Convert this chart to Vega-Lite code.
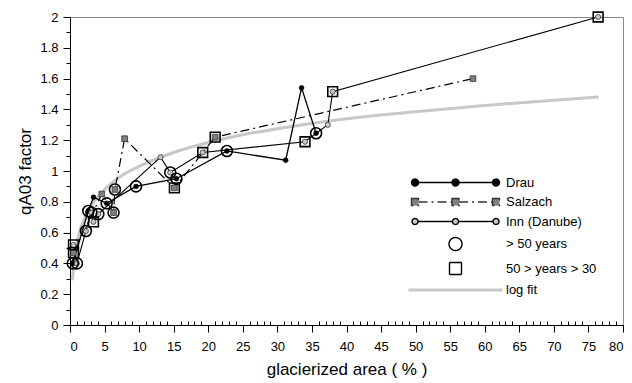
{
  "$schema": "https://vega.github.io/schema/vega-lite/v6.json",
  "width": 553,
  "height": 308,
  "autosize": "none",
  "padding": {"left": 70, "top": 17, "right": 9, "bottom": 58},
  "background": "white",
  "config": {
    "font": "Liberation Sans",
    "view": {"stroke": "#888888", "strokeWidth": 1},
    "axis": {"grid": false, "domainColor": "black", "tickColor": "black", "labelColor": "black", "titleColor": "black", "labelFont": "Liberation Sans", "titleFont": "Liberation Sans", "titleFontWeight": "normal", "labelFontSize": 13, "titleFontSize": 17}
  },
  "datasets": {
    "pts": [
      {"river": "Drau", "area": 0.4, "q": 0.40, "age": "> 50 years"},
      {"river": "Drau", "area": 2.65, "q": 0.74, "age": "> 50 years"},
      {"river": "Drau", "area": 3.4, "q": 0.83, "age": null},
      {"river": "Drau", "area": 5.3, "q": 0.79, "age": "> 50 years"},
      {"river": "Drau", "area": 9.55, "q": 0.90, "age": "> 50 years"},
      {"river": "Drau", "area": 15.4, "q": 0.95, "age": "> 50 years"},
      {"river": "Drau", "area": 22.7, "q": 1.13, "age": "> 50 years"},
      {"river": "Drau", "area": 31.2, "q": 1.07, "age": null},
      {"river": "Drau", "area": 33.5, "q": 1.54, "age": null},
      {"river": "Drau", "area": 35.6, "q": 1.245, "age": "> 50 years"},
      {"river": "Salzach", "area": 0.5, "q": 0.47, "age": "50 > years > 30"},
      {"river": "Salzach", "area": 4.6, "q": 0.85, "age": null},
      {"river": "Salzach", "area": 6.3, "q": 0.73, "age": "> 50 years"},
      {"river": "Salzach", "area": 6.5, "q": 0.88, "age": "> 50 years"},
      {"river": "Salzach", "area": 7.9, "q": 1.21, "age": null},
      {"river": "Salzach", "area": 15.1, "q": 0.89, "age": "50 > years > 30"},
      {"river": "Salzach", "area": 21.0, "q": 1.22, "age": "50 > years > 30"},
      {"river": "Salzach", "area": 58.3, "q": 1.60, "age": null},
      {"river": "Inn (Danube)", "area": 0.5, "q": 0.52, "age": "50 > years > 30"},
      {"river": "Inn (Danube)", "area": 1.0, "q": 0.40, "age": "> 50 years"},
      {"river": "Inn (Danube)", "area": 2.3, "q": 0.61, "age": "> 50 years"},
      {"river": "Inn (Danube)", "area": 3.1, "q": 0.73, "age": "> 50 years"},
      {"river": "Inn (Danube)", "area": 3.4, "q": 0.67, "age": "50 > years > 30"},
      {"river": "Inn (Danube)", "area": 4.1, "q": 0.72, "age": "> 50 years"},
      {"river": "Inn (Danube)", "area": 13.1, "q": 1.09, "age": null},
      {"river": "Inn (Danube)", "area": 14.5, "q": 0.99, "age": "> 50 years"},
      {"river": "Inn (Danube)", "area": 19.2, "q": 1.12, "age": "50 > years > 30"},
      {"river": "Inn (Danube)", "area": 34.0, "q": 1.19, "age": "50 > years > 30"},
      {"river": "Inn (Danube)", "area": 37.3, "q": 1.30, "age": null},
      {"river": "Inn (Danube)", "area": 38.0, "q": 1.515, "age": "50 > years > 30"},
      {"river": "Inn (Danube)", "area": 76.4, "q": 2.00, "age": "50 > years > 30"}
    ],
    "fit": [
      {"area": 0.35, "q": 0.29},
      {"area": 0.5, "q": 0.37},
      {"area": 0.75, "q": 0.46},
      {"area": 1, "q": 0.53},
      {"area": 1.5, "q": 0.62},
      {"area": 2, "q": 0.68},
      {"area": 3, "q": 0.77},
      {"area": 4, "q": 0.83},
      {"area": 5, "q": 0.88},
      {"area": 7, "q": 0.955},
      {"area": 10, "q": 1.03},
      {"area": 15, "q": 1.12},
      {"area": 20, "q": 1.185},
      {"area": 25, "q": 1.235},
      {"area": 30, "q": 1.275},
      {"area": 40, "q": 1.34},
      {"area": 50, "q": 1.385},
      {"area": 60, "q": 1.425},
      {"area": 70, "q": 1.46},
      {"area": 76.5, "q": 1.48}
    ]
  },
  "layer": [
    {
      "data": {"name": "fit"},
      "mark": {"type": "line", "color": "#c8c8c8", "strokeWidth": 3, "interpolate": "monotone"},
      "encoding": {
        "x": {"field": "area", "type": "quantitative", "scale": {"domain": [0, 80], "nice": false, "zero": false},
          "axis": {"orient": "bottom", "values": [0,5,10,15,20,25,30,35,40,45,50,55,60,65,70,75,80], "tickSize": 7, "labelPadding": 8, "title": "glacierized area ( % )", "titlePadding": 8}},
        "y": {"field": "q", "type": "quantitative", "scale": {"domain": [0, 2], "nice": false, "zero": false},
          "axis": {"orient": "left", "values": [0,0.2,0.4,0.6,0.8,1,1.2,1.4,1.6,1.8,2], "format": "~g", "tickSize": 7, "labelPadding": 5, "title": "qA03 factor", "titlePadding": 5}}
      }
    },
    {
      "data": {"name": "pts"},
      "transform": [{"filter": "datum.river === 'Drau'"}],
      "mark": {"type": "line", "color": "black", "strokeWidth": 1.3},
      "encoding": {
        "x": {"field": "area", "type": "quantitative",
          "axis": {"orient": "bottom", "values": [1,2,3,4,6,7,8,9,11,12,13,14,16,17,18,19,21,22,23,24,26,27,28,29,31,32,33,34,36,37,38,39,41,42,43,44,46,47,48,49,51,52,53,54,56,57,58,59,61,62,63,64,66,67,68,69,71,72,73,74,76,77,78,79], "tickSize": -4, "labels": false, "domain": false, "title": null}},
        "y": {"field": "q", "type": "quantitative",
          "axis": {"orient": "left", "values": [0.1,0.3,0.5,0.7,0.9,1.1,1.3,1.5,1.7,1.9], "tickSize": 4, "labels": false, "domain": false, "title": null}}
      }
    },
    {
      "data": {"name": "pts"},
      "transform": [{"filter": "datum.river === 'Salzach'"}],
      "mark": {"type": "line", "color": "black", "strokeWidth": 1.2, "strokeDash": [9, 4, 2, 4]},
      "encoding": {
        "x": {"field": "area", "type": "quantitative", "axis": null},
        "y": {"field": "q", "type": "quantitative", "axis": null}
      }
    },
    {
      "data": {"name": "pts"},
      "transform": [{"filter": "datum.river === 'Inn (Danube)'"}],
      "mark": {"type": "line", "color": "black", "strokeWidth": 1.1},
      "encoding": {
        "x": {"field": "area", "type": "quantitative", "axis": null},
        "y": {"field": "q", "type": "quantitative", "axis": null}
      }
    },
    {
      "data": {"name": "pts"},
      "transform": [{"filter": "datum.river === 'Drau'"}],
      "mark": {"type": "point", "shape": "circle", "filled": true, "fill": "black", "stroke": "black", "strokeWidth": 0.5, "size": 24, "opacity": 1},
      "encoding": {
        "x": {"field": "area", "type": "quantitative", "axis": null},
        "y": {"field": "q", "type": "quantitative", "axis": null}
      }
    },
    {
      "data": {"name": "pts"},
      "transform": [{"filter": "datum.river === 'Salzach'"}],
      "mark": {"type": "point", "shape": "square", "filled": true, "fill": "#808080", "stroke": "#333333", "strokeWidth": 0.8, "size": 32, "opacity": 1},
      "encoding": {
        "x": {"field": "area", "type": "quantitative", "axis": null},
        "y": {"field": "q", "type": "quantitative", "axis": null}
      }
    },
    {
      "data": {"name": "pts"},
      "transform": [{"filter": "datum.river === 'Inn (Danube)'"}],
      "mark": {"type": "point", "shape": "circle", "filled": true, "fill": "#c8c8c8", "stroke": "#333333", "strokeWidth": 0.8, "size": 26, "opacity": 1},
      "encoding": {
        "x": {"field": "area", "type": "quantitative", "axis": null},
        "y": {"field": "q", "type": "quantitative", "axis": null}
      }
    },
    {
      "data": {"name": "pts"},
      "transform": [{"filter": "datum.age === '> 50 years'"}],
      "mark": {"type": "point", "shape": "circle", "filled": false, "stroke": "black", "strokeWidth": 1.6, "size": 120, "opacity": 1},
      "encoding": {
        "x": {"field": "area", "type": "quantitative", "axis": null},
        "y": {"field": "q", "type": "quantitative", "axis": null}
      }
    },
    {
      "data": {"name": "pts"},
      "transform": [{"filter": "datum.age === '50 > years > 30'"}],
      "mark": {"type": "point", "shape": "square", "filled": false, "stroke": "black", "strokeWidth": 1.6, "size": 95, "opacity": 1},
      "encoding": {
        "x": {"field": "area", "type": "quantitative", "axis": null},
        "y": {"field": "q", "type": "quantitative", "axis": null}
      }
    },
    {
      "data": {"name": "pts"},
      "transform": [{"filter": "false"}],
      "mark": {"type": "point", "filled": true, "opacity": 1},
      "encoding": {
        "x": {"field": "area", "type": "quantitative", "axis": null},
        "y": {"field": "q", "type": "quantitative", "axis": null},
        "fill": {"field": "river", "type": "nominal",
          "scale": {"domain": ["Drau", "Salzach", "Inn (Danube)", "> 50 years", "50 > years > 30", "log fit"],
                    "range": ["black", "#808080", "#c8c8c8", "transparent", "transparent", "#c8c8c8"]},
          "legend": {"title": null, "orient": "none", "legendX": 379, "legendY": 159, "padding": 0, "symbolOffset": 0, "symbolSize": 100, "symbolStrokeWidth": 1.4, "labelFont": "Liberation Sans", "labelFontSize": 13, "labelColor": "black", "labelOffset": 44, "rowPadding": 5.5}},
        "stroke": {"field": "river", "type": "nominal",
          "scale": {"domain": ["Drau", "Salzach", "Inn (Danube)", "> 50 years", "50 > years > 30", "log fit"],
                    "range": ["black", "#333333", "black", "black", "black", "transparent"]}},
        "strokeDash": {"field": "river", "type": "nominal",
          "scale": {"domain": ["Drau", "Salzach", "Inn (Danube)", "> 50 years", "50 > years > 30", "log fit"],
                    "range": [[1, 0], [9, 4, 2, 4], [1, 0], [1, 0], [1, 0], [1, 0]]}},
        "shape": {"field": "river", "type": "nominal",
          "scale": {"domain": ["Drau", "Salzach", "Inn (Danube)", "> 50 years", "50 > years > 30", "log fit"],
                    "range": [
                      "M-7.4,0H-0.7M0.7,0H7.4M-7.4,0a0.7,0.7 0 1,0 -1.4,0a0.7,0.7 0 1,0 1.4,0M0.7,0a0.7,0.7 0 1,0 -1.4,0a0.7,0.7 0 1,0 1.4,0M8.8,0a0.7,0.7 0 1,0 -1.4,0a0.7,0.7 0 1,0 1.4,0",
                      "M-7.4,0H-0.7M0.7,0H7.4M-8.8,-0.7h1.4v1.4h-1.4zM-0.7,-0.7h1.4v1.4h-1.4zM7.4,-0.7h1.4v1.4h-1.4z",
                      "M-7.5,0H-0.6M0.6,0H7.5M-7.5,0a0.6,0.6 0 1,0 -1.2,0a0.6,0.6 0 1,0 1.2,0M0.6,0a0.6,0.6 0 1,0 -1.2,0a0.6,0.6 0 1,0 1.2,0M8.7,0a0.6,0.6 0 1,0 -1.2,0a0.6,0.6 0 1,0 1.2,0",
                      "M1.3,0a1.3,1.3 0 1,0 -2.6,0a1.3,1.3 0 1,0 2.6,0",
                      "M-1.2,-1.2h2.4v2.4h-2.4z",
                      "M-9.4,-0.3H9.4V0.3H-9.4Z"
                    ]}}
      }
    }
  ],
  "resolve": {"axis": {"x": "independent", "y": "independent"}}
}
